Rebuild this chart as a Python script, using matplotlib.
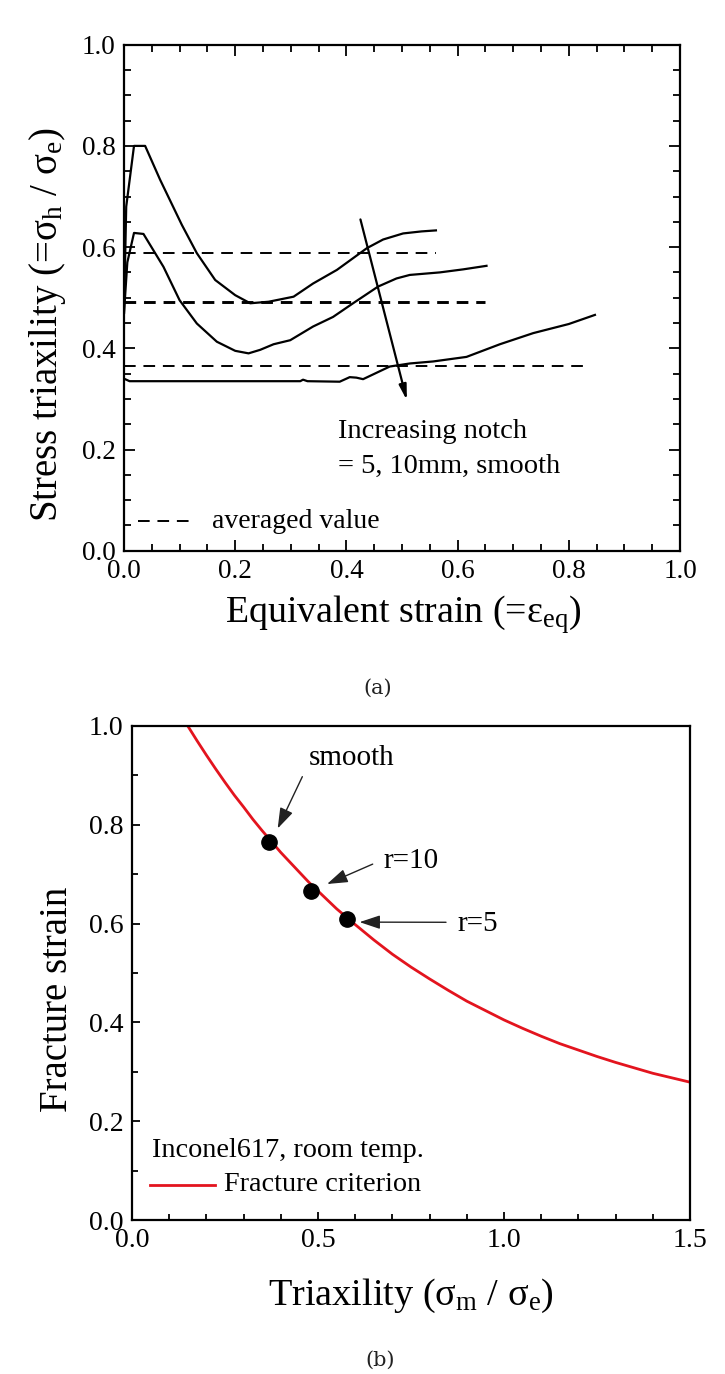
import matplotlib
matplotlib.use("Agg")
import matplotlib.pyplot as plt
from matplotlib.ticker import MultipleLocator, FormatStrFormatter

plt.rcParams['font.family'] = ['Liberation Serif', 'DejaVu Serif']
plt.rcParams['mathtext.fontset'] = 'custom'
plt.rcParams['mathtext.rm'] = 'Liberation Serif'
plt.rcParams['mathtext.it'] = 'Liberation Serif:italic'

# ---------------- Panel (a) data ----------------
r5_x = [0.0, 0.004, 0.018, 0.038, 0.065, 0.104, 0.131, 0.164, 0.2, 0.227, 0.26,
        0.305, 0.34, 0.383, 0.437, 0.466, 0.502, 0.535, 0.561]
r5_y = [0.47, 0.68, 0.80, 0.80, 0.733, 0.644, 0.588, 0.535, 0.505, 0.489, 0.492,
        0.502, 0.528, 0.555, 0.598, 0.615, 0.627, 0.631, 0.633]

r10_x = [0.0, 0.006, 0.018, 0.035, 0.071, 0.1, 0.131, 0.167, 0.2, 0.224, 0.245,
         0.269, 0.299, 0.34, 0.376, 0.412, 0.457, 0.49, 0.514, 0.568, 0.61, 0.652]
r10_y = [0.47, 0.57, 0.628, 0.626, 0.561, 0.495, 0.449, 0.413, 0.395, 0.39, 0.397,
         0.408, 0.416, 0.443, 0.462, 0.489, 0.522, 0.538, 0.545, 0.55, 0.556, 0.563]

smooth_x = [0.0, 0.01, 0.1, 0.2, 0.3, 0.317, 0.322, 0.33, 0.388, 0.406, 0.418,
            0.43, 0.478, 0.514, 0.556, 0.616, 0.676, 0.736, 0.8, 0.847]
smooth_y = [0.34, 0.335, 0.335, 0.335, 0.335, 0.335, 0.338, 0.335, 0.334, 0.343,
            0.342, 0.339, 0.364, 0.37, 0.374, 0.383, 0.408, 0.43, 0.448, 0.466]

avg_values = [0.589, 0.491, 0.366]
avg_ends = [0.561, 0.649, 0.829]

# ---------------- Panel (b) data ----------------
crit_x = [0.15, 0.175, 0.2, 0.225, 0.25, 0.275, 0.3, 0.325, 0.35, 0.375, 0.4,
          0.425, 0.45, 0.475, 0.5, 0.55, 0.6, 0.65, 0.7, 0.75, 0.8, 0.85, 0.9,
          0.95, 1.0, 1.05, 1.1, 1.15, 1.2, 1.25, 1.3, 1.35, 1.4, 1.45, 1.5]
crit_y = [1.0, 0.970, 0.941, 0.913, 0.886, 0.860, 0.836, 0.811, 0.788, 0.766,
          0.744, 0.724, 0.704, 0.684, 0.666, 0.630, 0.598, 0.567, 0.538, 0.512,
          0.488, 0.465, 0.443, 0.424, 0.405, 0.388, 0.372, 0.357, 0.344, 0.331,
          0.319, 0.308, 0.297, 0.288, 0.279]

pt_labels = ['smooth', 'r=10', 'r=5']
pt_tri = [0.367, 0.481, 0.577]
pt_fs = [0.766, 0.667, 0.610]

W, H = 725, 1374
fig = plt.figure(figsize=(W / 100, H / 100), dpi=100)


def rect(l, r, t, b):
    return [l / W, 1 - b / H, (r - l) / W, (b - t) / H]


def fx(px):
    return px / W


def fy(py):
    return 1 - py / H


def style_axes(ax, tick_size):
    for s in ax.spines.values():
        s.set_linewidth(1.6)
    ax.tick_params(which='both', direction='in', top=True, right=True,
                   width=1.3, labelsize=tick_size, pad=6)
    ax.tick_params(which='major', length=8)
    ax.tick_params(which='minor', length=5)


# ---------------- Panel (a) ----------------
axa = fig.add_axes(rect(124, 680, 44.7, 550.7))
axa.plot(r5_x, r5_y, color='black', lw=1.6)
axa.plot(r10_x, r10_y, color='black', lw=1.6)
axa.plot(smooth_x, smooth_y, color='black', lw=1.6)
for v, e, lw, d in zip(avg_values, avg_ends, [1.4, 2.1, 1.4],
                       [(6, 4), (4.0, 2.7), (6, 4)]):
    axa.plot([0.0, e], [v, v], color='black', lw=lw, dashes=d)
axa.annotate('', xy=(0.51, 0.292), xytext=(0.424, 0.66),
             arrowprops=dict(arrowstyle='-|>,head_length=0.9,head_width=0.22',
                             color='black', lw=1.6))
axa.text(0.385, 0.235, 'Increasing notch', fontsize=20.5, va='center')
axa.text(0.385, 0.166, '= 5, 10mm, smooth', fontsize=20.5, va='center')
axa.plot([0.025, 0.127], [0.058, 0.058], color='black', lw=1.4, dashes=(6, 4))
axa.text(0.158, 0.058, 'averaged value', fontsize=20, va='center')
axa.set_xlim(0, 1)
axa.set_ylim(0, 1)
axa.xaxis.set_major_locator(MultipleLocator(0.2))
axa.xaxis.set_minor_locator(MultipleLocator(0.05))
axa.yaxis.set_major_locator(MultipleLocator(0.2))
axa.yaxis.set_minor_locator(MultipleLocator(0.05))
axa.xaxis.set_major_formatter(FormatStrFormatter('%.1f'))
axa.yaxis.set_major_formatter(FormatStrFormatter('%.1f'))
style_axes(axa, 19.5)
fig.text(fx(403), fy(623), r'Equivalent strain (=ε$_{\rm eq}$)', fontsize=27.3,
         ha='center', va='baseline')
fig.text(fx(57), fy(325), r'Stress triaxility (=σ$_{\rm h}$ / σ$_{\rm e}$)',
         fontsize=28, rotation=90, rotation_mode='anchor', ha='center', va='baseline')
fig.text(fx(378), fy(688), '(a)', fontsize=15, ha='center', va='center',
         family=['DejaVu Serif'], color='#222222')

# ---------------- Panel (b) ----------------
axb = fig.add_axes(rect(132, 690, 726, 1220))
axb.plot(crit_x, crit_y, color='#e3141e', lw=2.0)
axb.plot(pt_tri, pt_fs, 'o', color='black', ms=11, zorder=5)


def arrow_kw(rel):
    return dict(arrowstyle='-|>,head_length=0.6,head_width=0.2', color='#222222',
                lw=1.0, relpos=rel, shrinkA=6, shrinkB=1)


axb.annotate(pt_labels[0], xy=(0.39, 0.79), xytext=(0.475, 0.935),
             fontsize=21, va='center', ha='left', arrowprops=arrow_kw((0.0, 0.3)))
axb.annotate(pt_labels[1], xy=(0.521, 0.679), xytext=(0.675, 0.727),
             fontsize=21, va='center', ha='left', arrowprops=arrow_kw((0.0, 0.55)))
axb.annotate(pt_labels[2], xy=(0.608, 0.603), xytext=(0.874, 0.60),
             fontsize=21, va='center', ha='left', arrowprops=arrow_kw((0.0, 0.55)))
axb.text(0.055, 0.140, 'Inconel617, room temp.', fontsize=20.3, va='center')
axb.plot([0.049, 0.223], [0.071, 0.071], color='#e3141e', lw=2.0)
axb.text(0.248, 0.071, 'Fracture criterion', fontsize=20.3, va='center')
axb.set_xlim(0, 1.5)
axb.set_ylim(0, 1.0)
axb.xaxis.set_major_locator(MultipleLocator(0.5))
axb.xaxis.set_minor_locator(MultipleLocator(0.1))
axb.yaxis.set_major_locator(MultipleLocator(0.2))
axb.yaxis.set_minor_locator(MultipleLocator(0.1))
axb.xaxis.set_major_formatter(FormatStrFormatter('%.1f'))
axb.yaxis.set_major_formatter(FormatStrFormatter('%.1f'))
style_axes(axb, 20)
axb.tick_params(which='both', top=False, right=False)
axb.tick_params(which='major', length=6)
axb.tick_params(which='minor', length=4)
fig.text(fx(411), fy(1305), r'Triaxility (σ$_{\rm m}$ / σ$_{\rm e}$)', fontsize=27.5,
         ha='center', va='baseline')
fig.text(fx(67), fy(999), 'Fracture strain', fontsize=28, rotation=90,
         rotation_mode='anchor', ha='center', va='baseline')
fig.text(fx(380), fy(1360), '(b)', fontsize=15, ha='center', va='center',
         family=['DejaVu Serif'], color='#222222')

fig.savefig('out.png', dpi=100)
